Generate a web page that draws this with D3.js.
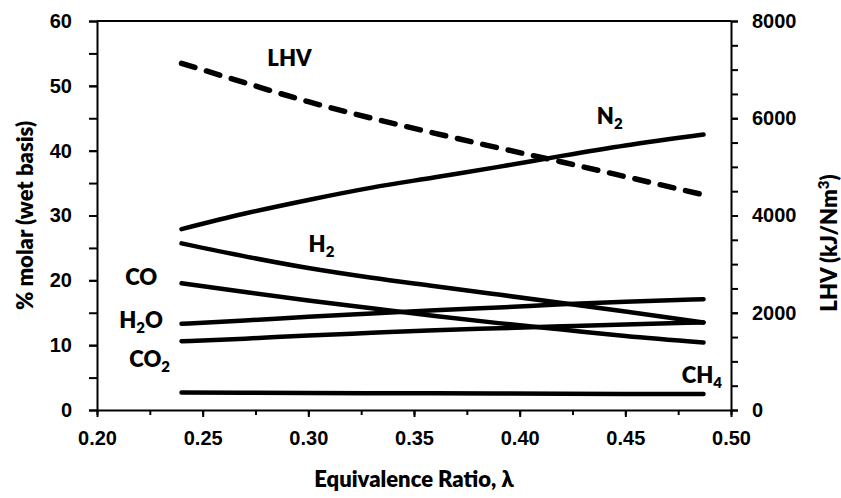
<!DOCTYPE html>
<html>
<head>
<meta charset="utf-8">
<script src="https://cdn.jsdelivr.net/npm/d3@7"></script>
<style>
  html, body { margin: 0; padding: 0; background: #fff; }
  svg { display: block; font-family: Lato, "Open Sans", sans-serif; font-weight: 800; }
  .axis path, .axis line { stroke: #000; stroke-width: 2; }
  .axis text { font-size: 20px; font-weight: 800; fill: #000; }
</style>
</head>
<body>
<div id="chart"></div>
<script>
// equivalence ratio samples
const lambda = [0.24, 0.27, 0.30, 0.33, 0.36, 0.39, 0.42, 0.45, 0.487];

// gas composition, % molar (wet basis)
const n2  = [27.9, 30.3, 32.4, 34.3, 35.9, 37.5, 39.2, 40.8, 42.5];
const h2  = [25.7, 23.7, 21.9, 20.4, 19.1, 17.8, 16.5, 15.2, 13.5];
const co  = [19.55, 18.2, 16.9, 15.7, 14.5, 13.4, 12.4, 11.4, 10.4];
const h2o = [13.3, 13.8, 14.4, 14.9, 15.4, 15.8, 16.3, 16.7, 17.1];
const co2 = [10.6, 11.0, 11.5, 11.9, 12.3, 12.6, 12.9, 13.2, 13.5];
const ch4 = [2.7, 2.65, 2.62, 2.6, 2.57, 2.54, 2.5, 2.48, 2.45];

// lower heating value, kJ/Nm3 (right axis)
const lhv = [7130, 6730, 6340, 6000, 5690, 5390, 5100, 4800, 4425];

const xTicks = [0.20, 0.25, 0.30, 0.35, 0.40, 0.45, 0.50];
const yTicks = [0, 10, 20, 30, 40, 50, 60];
const y2Ticks = [0, 2000, 4000, 6000, 8000];

// series labels: [main, subscript, lambda, % molar]
const seriesLabels = [
  ["LHV", "", 0.2806, 53.1],
  ["N", "2", 0.4365, 44.1],
  ["H", "2", 0.3001, 24.3],
  ["CO", "", 0.2134, 19.3],
  ["H", "2O", 0.2105, 12.65],
  ["CO", "2", 0.2153, 6.6],
  ["CH", "4", 0.4767, 4.2],
];

(function () {
  const width = 841;
  const height = 498;
  const margin = { top: 21, right: 110, bottom: 88, left: 97 };
  const plotW = width - margin.left - margin.right;
  const plotH = height - margin.top - margin.bottom;

  const svg = d3.select("#chart")
    .append("svg")
    .attr("width", width)
    .attr("height", height);

  const g = svg.append("g").attr("transform", `translate(${margin.left},${margin.top})`);

  const x = d3.scaleLinear().domain([0.2, 0.5]).range([0, plotW]);
  const y = d3.scaleLinear().domain([0, 60]).range([plotH, 0]);
  const y2 = d3.scaleLinear().domain([0, 8000]).range([plotH, 0]);

  // minor ticks first (no labels)
  g.append("g")
    .attr("class", "axis")
    .attr("transform", `translate(0,${plotH})`)
    .call(d3.axisBottom(x).tickValues(d3.range(0.2, 0.5001, 0.025)).tickSize(5).tickFormat(""))
    .select(".domain").remove();
  g.append("g")
    .attr("class", "axis")
    .call(d3.axisLeft(y).tickValues(d3.range(0, 61, 5)).tickSize(8).tickFormat(""))
    .select(".domain").remove();
  g.append("g")
    .attr("class", "axis")
    .attr("transform", `translate(${plotW},0)`)
    .call(d3.axisRight(y2).tickValues(d3.range(0, 8001, 500)).tickSize(7).tickFormat(""))
    .select(".domain").remove();

  // labelled axes
  g.append("g")
    .attr("class", "axis")
    .attr("transform", `translate(0,${plotH})`)
    .call(d3.axisBottom(x).tickValues(xTicks).tickSize(7).tickSizeOuter(0).tickPadding(14).tickFormat(d3.format(".2f")));
  g.append("g")
    .attr("class", "axis")
    .call(d3.axisLeft(y).tickValues(yTicks).tickSize(8).tickSizeOuter(0).tickPadding(17).tickFormat(d3.format("d")));
  g.append("g")
    .attr("class", "axis")
    .attr("transform", `translate(${plotW},0)`)
    .call(d3.axisRight(y2).tickValues(y2Ticks).tickSize(7).tickSizeOuter(0).tickPadding(14).tickFormat(d3.format("d")));

  // top frame line
  g.append("line")
    .attr("x1", 0).attr("x2", plotW)
    .attr("y1", 0).attr("y2", 0)
    .attr("stroke", "#000").attr("stroke-width", 2);

  const line = (vals, scale) => d3.line()
    .x((d, i) => x(lambda[i]))
    .y((d) => scale(d))
    .curve(d3.curveMonotoneX)(vals);

  [n2, h2, co, h2o, co2, ch4].forEach((vals) => {
    g.append("path")
      .attr("d", line(vals, y))
      .attr("fill", "none")
      .attr("stroke", "#000")
      .attr("stroke-width", 4.5)
      .attr("stroke-linecap", "round");
  });

  g.append("path")
    .attr("d", line(lhv, y2))
    .attr("fill", "none")
    .attr("stroke", "#000")
    .attr("stroke-width", 5.5)
    .attr("stroke-linecap", "round")
    .attr("stroke-dasharray", "14,12");

  // series labels
  seriesLabels.forEach(([main, sub, lx, ly]) => {
    const t = g.append("text")
      .attr("x", x(lx))
      .attr("y", y(ly))
      .attr("font-size", 22)
      .attr("fill", "#000");
    t.append("tspan").text(main);
    if (sub) {
      const digit = sub.charAt(0);
      t.append("tspan").attr("font-size", 15).attr("dy", 5).text(digit);
      if (sub.length > 1) t.append("tspan").attr("dy", -5).text(sub.slice(1));
    }
  });

  // axis titles
  svg.append("text")
    .attr("x", margin.left + plotW / 2)
    .attr("y", 487)
    .attr("text-anchor", "middle")
    .attr("font-size", 22)
    .text("Equivalence Ratio, λ");

  svg.append("text")
    .attr("transform", `translate(33,${margin.top + plotH / 2}) rotate(-90)`)
    .attr("text-anchor", "middle")
    .attr("font-size", 22)
    .text("% molar (wet basis)");

  const rt = svg.append("text")
    .attr("transform", `translate(837,243) rotate(-90)`)
    .attr("text-anchor", "middle")
    .attr("font-size", 22);
  rt.append("tspan").text("LHV (kJ/Nm");
  rt.append("tspan").attr("font-size", 15).attr("dy", -8).text("3");
  rt.append("tspan").attr("dy", 8).text(")");
})();
</script>
</body>
</html>
